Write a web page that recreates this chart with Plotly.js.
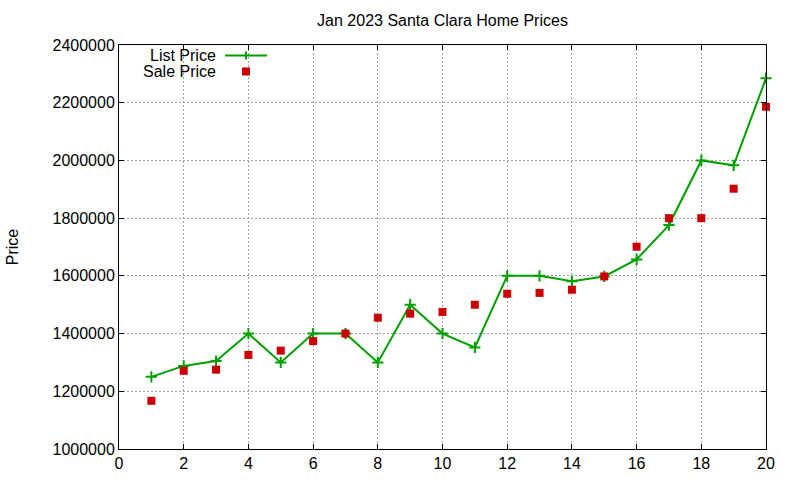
<!DOCTYPE html>
<html>
<head>
<meta charset="utf-8">
<script src="https://cdn.plot.ly/plotly-3.0.1.min.js"></script>
<style>html,body{margin:0;padding:0;background:#fff;}#chart{width:800px;height:480px;}</style>
</head>
<body>
<div id="chart"></div>
<script>
const homes = [1,2,3,4,5,6,7,8,9,10,11,12,13,14,15,16,17,18,19,20];
const listPrice = [1250000,1288000,1305000,1400000,1300000,1400000,1400000,1300000,1500000,1400000,1352000,1600000,1600000,1581000,1598000,1657000,1776000,2000000,1983000,2285000];
const salePrice = [1167000,1271000,1275000,1326000,1341000,1374000,1400000,1455000,1469000,1475000,1500000,1538000,1541000,1552000,1598000,1701000,1800000,1800000,1902000,2186000];
const xTicks = [0,2,4,6,8,10,12,14,16,18,20];
const yTicks = [1000000,1200000,1400000,1600000,1800000,2000000,2200000,2400000];
const seriesNames = ['List Price','Sale Price'];

const green = '#00a000';
const red = '#cc0000';
const font = 'Liberation Sans, Arial, sans-serif';

const traces = [
  {x: homes, y: listPrice, name: seriesNames[0], type: 'scatter', mode: 'lines+markers', cliponaxis: false,
   line: {color: green, width: 2},
   marker: {symbol: 'cross-thin', size: 8, color: green, line: {color: green, width: 2}}},
  {x: homes, y: salePrice, name: seriesNames[1], type: 'scatter', mode: 'markers', cliponaxis: false,
   marker: {symbol: 'square', size: 8, color: red}}
];

// plot area in pixels: left 119, right 766, top 45, bottom 449
const L = 119, R = 766, T = 45, B = 449;
const px = v => (v - L) / (R - L);
const py = v => (B - v) / (B - T);

const axisCommon = {
  showline: true, linecolor: '#000', linewidth: 1, mirror: 'allticks',
  ticks: 'inside', ticklen: 5, tickcolor: '#000', tickwidth: 1,
  showgrid: true, gridcolor: '#a0a0a0', gridwidth: 1, griddash: '2px,2px',
  zeroline: false, tickfont: {family: font, size: 16, color: '#000'}
};

const layout = {
  width: 800, height: 480,
  margin: {l: L, r: 800 - R, t: T, b: 480 - B},
  paper_bgcolor: '#fff', plot_bgcolor: '#fff',
  showlegend: false,
  font: {family: font, color: '#000'},
  title: {text: 'Jan 2023 Santa Clara Home Prices', font: {family: font, size: 16, color: '#000'},
          xref: 'paper', x: 0.5, xanchor: 'center', yref: 'container', y: 1 - 20/480, yanchor: 'middle'},
  xaxis: Object.assign({}, axisCommon, {range: [0, 20], tickvals: xTicks, ticktext: xTicks.map(String)}),
  yaxis: Object.assign({}, axisCommon, {range: [1000000, 2400000], tickvals: yTicks, ticktext: yTicks.map(String),
          title: {text: 'Price', font: {family: font, size: 16, color: '#000'}, standoff: 29}, automargin: false}),
  annotations: [
    {xref: 'paper', yref: 'paper', x: px(218), y: py(55.5), xanchor: 'right', yanchor: 'middle', showarrow: false,
     text: seriesNames[0], font: {family: font, size: 16, color: '#000'}},
    {xref: 'paper', yref: 'paper', x: px(218), y: py(71.5), xanchor: 'right', yanchor: 'middle', showarrow: false,
     text: seriesNames[1], font: {family: font, size: 16, color: '#000'}}
  ],
  shapes: [
    {type: 'line', xref: 'paper', yref: 'paper', x0: px(225), x1: px(267), y0: py(55.5), y1: py(55.5), line: {color: green, width: 2}},
    {type: 'line', xref: 'paper', yref: 'paper', x0: px(246), x1: px(246), y0: py(51.5), y1: py(59.5), line: {color: green, width: 2}},
    {type: 'rect', xref: 'paper', yref: 'paper', x0: px(242), x1: px(250), y0: py(67.5), y1: py(75.5), line: {width: 0}, fillcolor: red}
  ]
};

Plotly.newPlot('chart', traces, layout, {displayModeBar: false, staticPlot: true});
</script>
</body>
</html>
